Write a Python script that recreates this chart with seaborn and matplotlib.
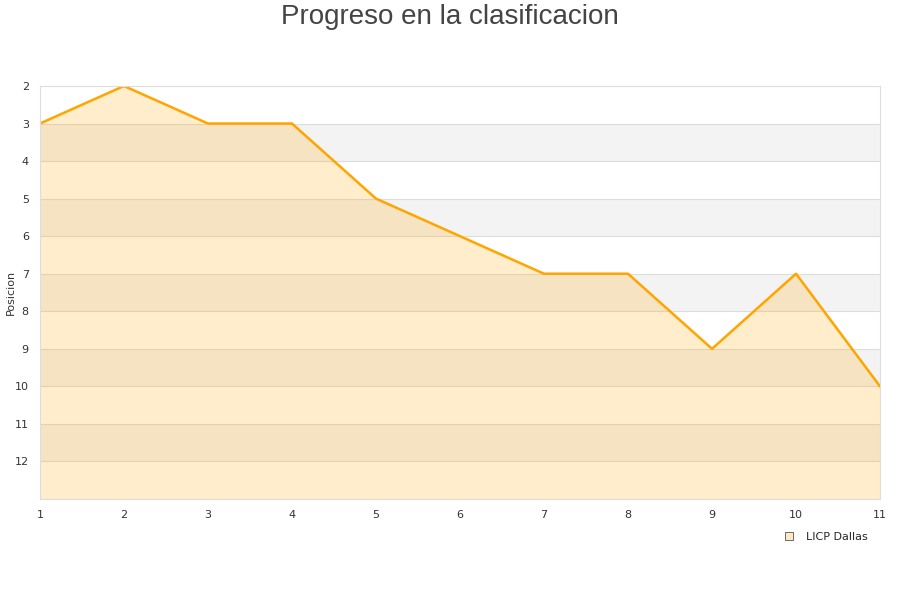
import pandas as pd
import seaborn as sns
import matplotlib.pyplot as plt
from matplotlib.lines import Line2D

# Datos de la clasificacion
jornadas = [1, 2, 3, 4, 5, 6, 7, 8, 9, 10, 11]
posiciones = [3, 2, 3, 3, 5, 6, 7, 7, 9, 7, 10]
y_ticks = [2, 3, 4, 5, 6, 7, 8, 9, 10, 11, 12]

df = pd.DataFrame({'jornada': jornadas, 'posicion': posiciones})

sns.set_style('white')
plt.rcParams['font.family'] = ['DejaVu Sans']

fig = plt.figure(figsize=(9, 6), dpi=100)
ax = fig.add_axes([0.0444, 0.1683, 0.9334, 0.6884])

# franjas alternas del fondo
for y0 in range(3, 13, 2):
    ax.axhspan(y0, y0 + 1, color='#f3f3f3', zorder=0, lw=0)
for y in range(3, 13):
    ax.axhline(y, color='#dddddd', lw=0.8, zorder=0.5)

ax.fill_between(df['jornada'], df['posicion'], 13, color='#ffa500', alpha=0.2, lw=0, zorder=1)
sns.lineplot(data=df, x='jornada', y='posicion', color='#ffa500', lw=1.8, ax=ax, zorder=2)

ax.set_xlim(1, 11)
ax.set_ylim(13, 2)
ax.set_xticks(jornadas)
ax.set_yticks(y_ticks)
ax.tick_params(axis='both', length=0, labelsize=8, labelcolor='#333333', pad=8)
ax.set_xlabel('')
ax.set_ylabel('Posicion', fontsize=8, color='#333333')
ax.yaxis.set_label_coords(-0.029, 0.5)

for s in ax.spines.values():
    s.set_color('#dddddd')
    s.set_linewidth(0.8)

fig.suptitle('Progreso en la clasificacion', fontsize=20, color='#444444',
             family=['Liberation Sans', 'DejaVu Sans'], y=0.993)

handle = Line2D([], [], marker='s', ls='', markersize=6, markerfacecolor='#fde9c4',
                markeredgecolor='#555555', markeredgewidth=0.6)
fig.legend([handle], ['LICP Dallas'], loc='center', bbox_to_anchor=(0.914, 0.105),
           frameon=False, fontsize=8, handletextpad=0.5)

plt.savefig('out.png', dpi=100)
